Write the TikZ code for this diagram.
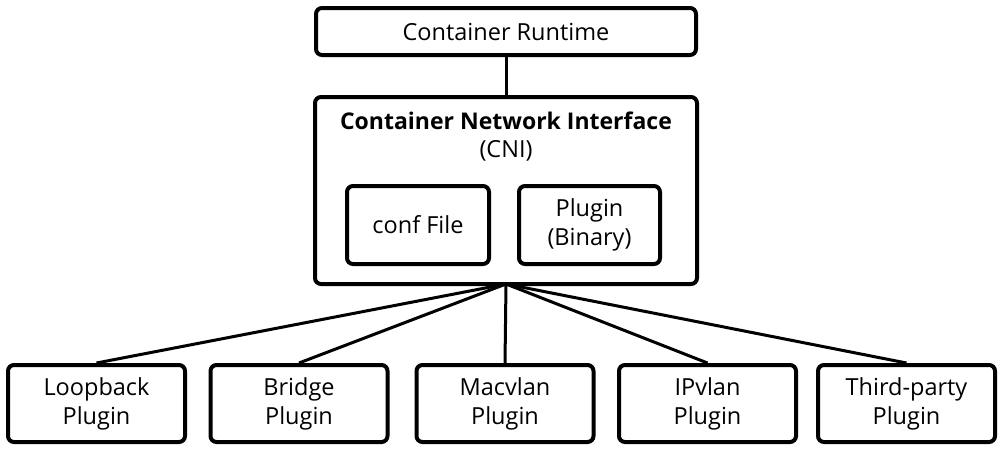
\documentclass[tikz,border=0pt]{standalone}
\usepackage{fontspec}
\setmainfont{Open Sans}
\begin{document}
\begin{tikzpicture}[x=1pt,y=-1pt,
  txt/.style={font=\fontsize{23.5}{29}\selectfont},
  box/.style={draw,line width=4pt,rounded corners=6pt,inner sep=0pt,align=center,txt},
  conn/.style={line width=3pt}]
\useasboundingbox (0,0) rectangle (1004,451);
\node[box,minimum width=380pt,minimum height=47pt] (cr) at (506,31.5) {Container Runtime};
\draw[box] (315,97) rectangle (697,284);
\coordinate (cnitop) at (506,97);
\coordinate (cnibot) at (506,284);
\node[txt,font=\fontsize{23}{28}\selectfont\bfseries] (cnititle) at (506,121) {Container Network Interface};
\node[txt] (cniabbr) at (506,151) {(CNI)};
\node[box,minimum width=142pt,minimum height=78pt] (conf) at (418,225) {conf File};
\node[box,minimum width=141pt,minimum height=78pt] (bin) at (589.5,225) {Plugin\\(Binary)};
\foreach \n/\x/\t in {lo/96.5/Loopback, br/299/Bridge, mv/505/Macvlan, ip/707.5/IPvlan, tp/906.5/Third-party}{
  \node[box,minimum width=177pt,minimum height=77pt] (\n) at (\x,403.5) {\t\\Plugin};
}
\draw[conn] (cr.south) -- (cnitop);
\foreach \n in {lo,br,mv,ip,tp}{ \draw[conn] (cnibot) -- (\n.north); }
\end{tikzpicture}
\end{document}
